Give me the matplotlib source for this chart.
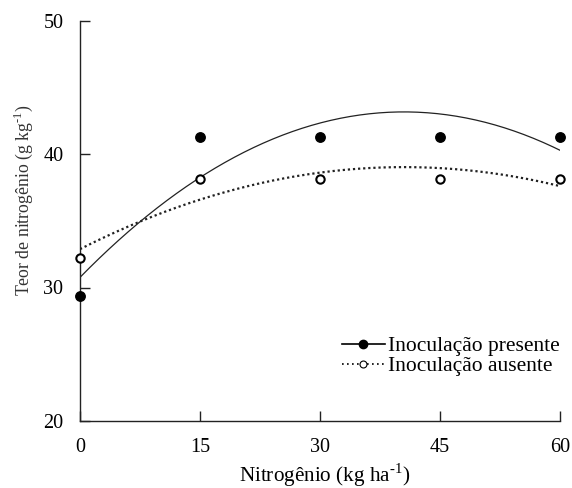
import numpy as np
import matplotlib
matplotlib.use("Agg")
import matplotlib.pyplot as plt
from matplotlib.lines import Line2D

plt.rcParams['font.family'] = ['Liberation Serif', 'DejaVu Serif']
plt.rcParams['mathtext.fontset'] = 'custom'
plt.rcParams['mathtext.rm'] = 'Liberation Serif'

nitrogen = [0, 15, 30, 45, 60]
presente = [29.4, 41.3, 41.3, 41.3, 41.3]
ausente = [32.2, 38.1, 38.1, 38.1, 38.1]
xticks = [0, 15, 30, 45, 60]
yticks = [20, 30, 40, 50]

fig = plt.figure(figsize=(5.72, 4.88), dpi=100)
ax = fig.add_axes([80/572, 1-421/488, 480/572, 400.5/488])

xs = np.linspace(0, 60, 200)
cp = np.polyfit(nitrogen, presente, 2)
ca = np.polyfit(nitrogen, ausente, 2)
ax.plot(xs, np.polyval(cp, xs), color='#222222', lw=0.9, ls='-')
ax.plot(xs, np.polyval(ca, xs), color='#222222', lw=1.6, ls=(0, (1, 1.3)))

ax.plot(nitrogen, presente, 'o', color='black', ms=6.8, ls='none', clip_on=False, zorder=5)
ax.plot(nitrogen, ausente, 'o', mfc='white', mec='black', mew=1.5, ms=6, ls='none', clip_on=False, zorder=5)

ax.set_xlim(0, 60)
ax.set_ylim(20, 50)
ax.set_xticks(xticks)
ax.set_yticks(yticks)
ax.tick_params(direction='in', length=7, width=1, labelsize=14.5, pad=12, colors='#222222', labelcolor='black')
for s in ['top', 'right']:
    ax.spines[s].set_visible(False)
for s in ['left', 'bottom']:
    ax.spines[s].set_color('#222222')
    ax.spines[s].set_linewidth(1)

ax.set_xlabel(r'Nitrogênio (kg ha$^{\text{-1}}$)', fontsize=15.2, va='top')
ax.xaxis.set_label_coords(0.509, -0.102)
ax.set_ylabel(r'Teor de nitrogênio (g kg$^{\text{-1}}$)', fontsize=12.8, color='#333333', va='center')
ax.yaxis.set_label_coords(-0.117, 0.552)

h1 = Line2D([], [], color='black', lw=1.2, marker='o', ms=6, mfc='black')
h2 = Line2D([], [], color='black', lw=1.2, ls=(0, (1, 2)), marker='o', ms=5, mfc='white', mew=0.8)
ax.legend([h1, h2], ['Inoculação presente', 'Inoculação ausente'], loc='lower right',
          bbox_to_anchor=(1.017, 0.09), frameon=False, fontsize=15.5, handlelength=2.0,
          handletextpad=0.15, labelspacing=0.0, borderaxespad=0)

fig.savefig('out.png', dpi=100)
